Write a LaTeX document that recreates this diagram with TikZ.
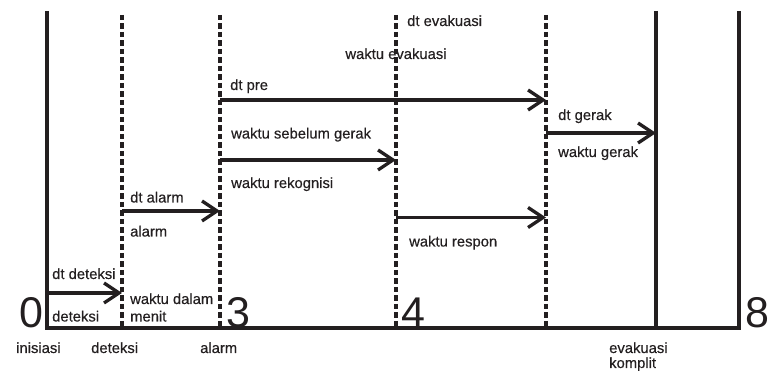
\documentclass[tikz,border=0pt]{standalone}
\usepackage{fontspec}
\setmainfont{Liberation Sans}
\newfontfamily\lblfont{Liberation Sans}[FakeBold=0.35]
\usetikzlibrary{arrows.meta}
\definecolor{ink}{RGB}{35,31,32}
\begin{document}
\begin{tikzpicture}[x=1pt,y=-1pt,
  lbl/.style={inner sep=0pt,anchor=base west,font=\lblfont\fontsize{14.8}{17}\selectfont,text=ink},
  big/.style={inner sep=0pt,anchor=base west,font=\fontsize{43}{48}\selectfont,text=ink},
  solidline/.style={draw=ink,line width=3.5pt},
  dashline/.style={draw=ink,line width=4.3pt,dash pattern=on 5.5pt off 3pt},
  arr/.style={draw=ink,line width=3.8pt,-{Straight Barb[length=15pt,width=20pt,line width=3.3pt]}}]
\useasboundingbox (0,0) rectangle (777,371);
% line coordinates
\coordinate (t0) at (47,11);  \coordinate (b0) at (47,328);
\coordinate (t1) at (122,15); \coordinate (b1) at (122,328);
\coordinate (t2) at (220,15); \coordinate (b2) at (220,328);
\coordinate (t3) at (396,15); \coordinate (b3) at (396,328);
\coordinate (t4) at (546,15); \coordinate (b4) at (546,328);
\coordinate (t5) at (656,11); \coordinate (b5) at (656,328);
\coordinate (t6) at (739,11); \coordinate (b6) at (739,328);
% arrow ends
\coordinate (a1s) at (47,293);    \coordinate (a1e) at (122,293);
\coordinate (a2s) at (122,211);   \coordinate (a2e) at (220,211);
\coordinate (a3s) at (220,100);   \coordinate (a3e) at (546,100);
\coordinate (a4s) at (220,160);   \coordinate (a4e) at (396,160);
\coordinate (a5s) at (396,217.5); \coordinate (a5e) at (546,217.5);
\coordinate (a6s) at (546,133);   \coordinate (a6e) at (656,133);
% labels
\node[lbl] (ldtdet) at (52,279) {dt deteksi};
\node[lbl] (ldet) at (52,321.5) {deteksi};
\node[lbl] (lwdal) at (130,304) {waktu dalam};
\node[lbl] (lmen) at (130,321.5) {menit};
\node[lbl] (ldtal) at (130,202.5) {dt alarm};
\node[lbl] (lal) at (130,236.5) {alarm};
\node[lbl] (ldtpre) at (230,90) {dt pre};
\node[lbl] (lwsg) at (231,138.5) {waktu sebelum gerak};
\node[lbl] (lwrek) at (231,188) {waktu rekognisi};
\node[lbl] (ldtev) at (407,26) {dt evakuasi};
\node[lbl,anchor=base] (lwev) at (396,59) {waktu evakuasi};
\node[lbl] (lwres) at (409,246.5) {waktu respon};
\node[lbl] (ldtger) at (558,120) {dt gerak};
\node[lbl] (lwger) at (558,157) {waktu gerak};
\node[lbl] (lini) at (16,353) {inisiasi};
\node[lbl] (ldet2) at (91,353) {deteksi};
\node[lbl] (lal2) at (200,353) {alarm};
\node[lbl] (lev) at (609,353) {evakuasi};
\node[lbl] (lkom) at (609,368) {komplit};
% big numbers
\node[big,anchor=base east] (n0) at (44,328) {0};
\node[big] (n3) at (226,328) {3};
\node[big] (n4) at (401,328) {4};
\node[big] (n8) at (745,328) {8};
% lines
\draw[solidline,line join=miter] (t0) -- (b0) -- (b6) -- (t6);
\draw[solidline] (t5) -- (b5);
\draw[dashline] (t1) -- (b1);
\draw[dashline] (t2) -- (b2);
\draw[dashline] (t3) -- (b3);
\draw[dashline] (t4) -- (b4);
% arrows
\draw[arr] (a1s) -- (a1e);
\draw[arr] (a2s) -- (a2e);
\draw[arr] (a3s) -- (a3e);
\draw[arr] (a4s) -- (a4e);
\draw[arr] (a5s) -- (a5e);
\draw[arr] (a6s) -- (a6e);
\end{tikzpicture}
\end{document}
